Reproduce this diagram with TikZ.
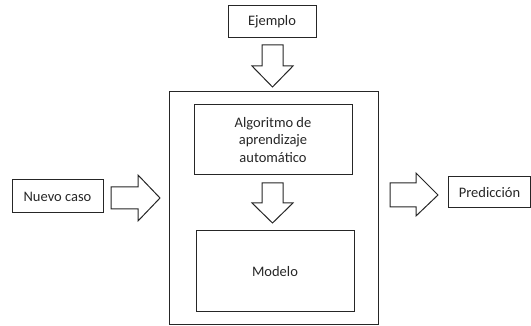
\documentclass[tikz,border=0pt]{standalone}
\usepackage{fontspec}
\setmainfont{Carlito}
\begin{document}
\begin{tikzpicture}[x=1pt,y=-1pt,
  box/.style={draw=black!85,line width=1pt,inner sep=0pt,align=center,text=black!85,font=\fontsize{14.5}{17.5}\selectfont},
  fatarrow/.style={draw=black!85,line width=1pt,line join=miter,fill=white}]
\useasboundingbox (0,0) rectangle (531,326);
\node[box,minimum width=88,minimum height=32] (ej) at (272,22) {Ejemplo};
\draw[draw=black!85,line width=1pt] (169,92) rectangle (378,325);
\node[box,minimum width=158,minimum height=70] (alg) at (273,140) {Algoritmo de\\aprendizaje\\automático};
\node[box,minimum width=158,minimum height=81] (mod) at (275,271.5) {Modelo};
\node[box,minimum width=91,minimum height=33] (nc) at (57.5,196.5) {Nuevo caso};
\node[box,minimum width=82,minimum height=31,anchor=west] (pr) at (448,192.5) {Predicción};
% top arrow
\draw[fatarrow] (262,45) -- (283,45) -- (283,66) -- (293,66) -- (272.5,87) -- (252,66) -- (262,66) -- cycle;
% middle arrow
\draw[fatarrow] (262,183) -- (283,183) -- (283,203) -- (293,203) -- (272.5,223) -- (252,203) -- (262,203) -- cycle;
% left arrow
\draw[fatarrow] (111,187) -- (138,187) -- (138,175) -- (160,198) -- (138,221) -- (138,209) -- (111,209) -- cycle;
% right arrow
\draw[fatarrow] (390,183) -- (416,183) -- (416,173) -- (438,195) -- (416,216) -- (416,207) -- (390,207) -- cycle;
\end{tikzpicture}
\end{document}
